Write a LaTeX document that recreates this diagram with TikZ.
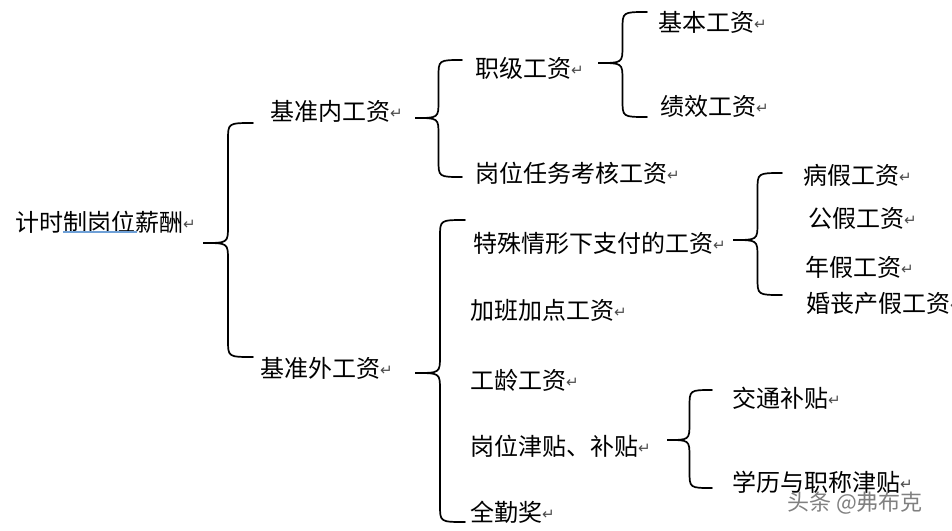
\documentclass[tikz,border=0pt]{standalone}
\usepackage{fontspec}
\setmainfont{Noto Sans CJK SC}
\newfontfamily\symfont{DejaVu Sans}
\usetikzlibrary{calc}
\newcommand{\ret}{\raisebox{1.5pt}{\symfont\fontsize{15}{15}\selectfont\color{black!70}↵}}
% brace: tip, top end, bottom end
\newcommand{\drawbrace}[3]{%
  \draw[bracket] let \p1=(#1), \p2=(#2), \p3=(#3), \p4=($(#1)!.5!(#2)$) in
    (\p2) .. controls (\x4,\y2) .. (\x4,\y2-17pt) -- (\x4,\y1+17pt)
    .. controls (\x4,\y1) .. (\p1) .. controls (\x4,\y1) .. (\x4,\y1-17pt)
    -- (\x4,\y3+17pt) .. controls (\x4,\y3) .. (\p3);}
\tikzset{
  item/.style={anchor=west, inner sep=0pt, font=\fontsize{24}{28}\selectfont},
  bracket/.style={line width=1.7pt, line cap=round}
}
\begin{document}
\begin{tikzpicture}[x=1pt,y=-1pt]
  \useasboundingbox (0,0) rectangle (952,530);

  \node[item] (root) at (15,222) {计时制岗位薪酬\ret};
  \node[item] (inner) at (270,111) {基准内工资\ret};
  \node[item] (outer) at (260,368) {基准外工资\ret};
  \node[item] (rank) at (475,68) {职级工资\ret};
  \node[item] (task) at (475,173) {岗位任务考核工资\ret};
  \node[item] (base) at (658,22) {基本工资\ret};
  \node[item] (perf) at (660,106) {绩效工资\ret};
  \node[item] (special) at (473,243) {特殊情形下支付的工资\ret};
  \node[item] (overtime) at (470,310) {加班加点工资\ret};
  \node[item] (senior) at (470,380) {工龄工资\ret};
  \node[item] (allow) at (470,446) {岗位津贴、补贴\ret};
  \node[item] (attend) at (470,512) {全勤奖\ret};
  \node[item] (sick) at (803,175) {病假工资\ret};
  \node[item] (public) at (808,218) {公假工资\ret};
  \node[item] (annual) at (805,267) {年假工资\ret};
  \node[item] (family) at (806,303) {婚丧产假工资\ret};
  \node[item] (traffic) at (732,398) {交通补贴\ret};
  \node[item] (degree) at (732,482) {学历与职称津贴\ret};

  \node[anchor=west, inner sep=0pt, font=\fontsize{22}{22}\selectfont, text=black!50] (mark) at (787,503) {头条 @弗布克};

  % grammar underline
  \draw[line width=1.2pt, color={rgb,255:red,110;green,160;blue,215}] (63,232) -- (137,232);

  \coordinate (rootb) at (203,243);
  \coordinate (rootb-a) at (253,123);
  \coordinate (rootb-b) at (253,357);
  \coordinate (innerb) at (415,118);
  \coordinate (innerb-a) at (462,60);
  \coordinate (innerb-b) at (462,177);
  \coordinate (rankb) at (598,63);
  \coordinate (rankb-a) at (647,12);
  \coordinate (rankb-b) at (647,117);
  \coordinate (specialb) at (733,240);
  \coordinate (specialb-a) at (782,173);
  \coordinate (specialb-b) at (782,295);
  \coordinate (outerb) at (415,373);
  \coordinate (outerb-a) at (465,220);
  \coordinate (outerb-b) at (465,522);
  \coordinate (allowb) at (667,440);
  \coordinate (allowb-a) at (712,390);
  \coordinate (allowb-b) at (712,488);

  \drawbrace{rootb}{rootb-a}{rootb-b}
  \drawbrace{innerb}{innerb-a}{innerb-b}
  \drawbrace{rankb}{rankb-a}{rankb-b}
  \drawbrace{specialb}{specialb-a}{specialb-b}
  \drawbrace{outerb}{outerb-a}{outerb-b}
  \drawbrace{allowb}{allowb-a}{allowb-b}
\end{tikzpicture}
\end{document}
